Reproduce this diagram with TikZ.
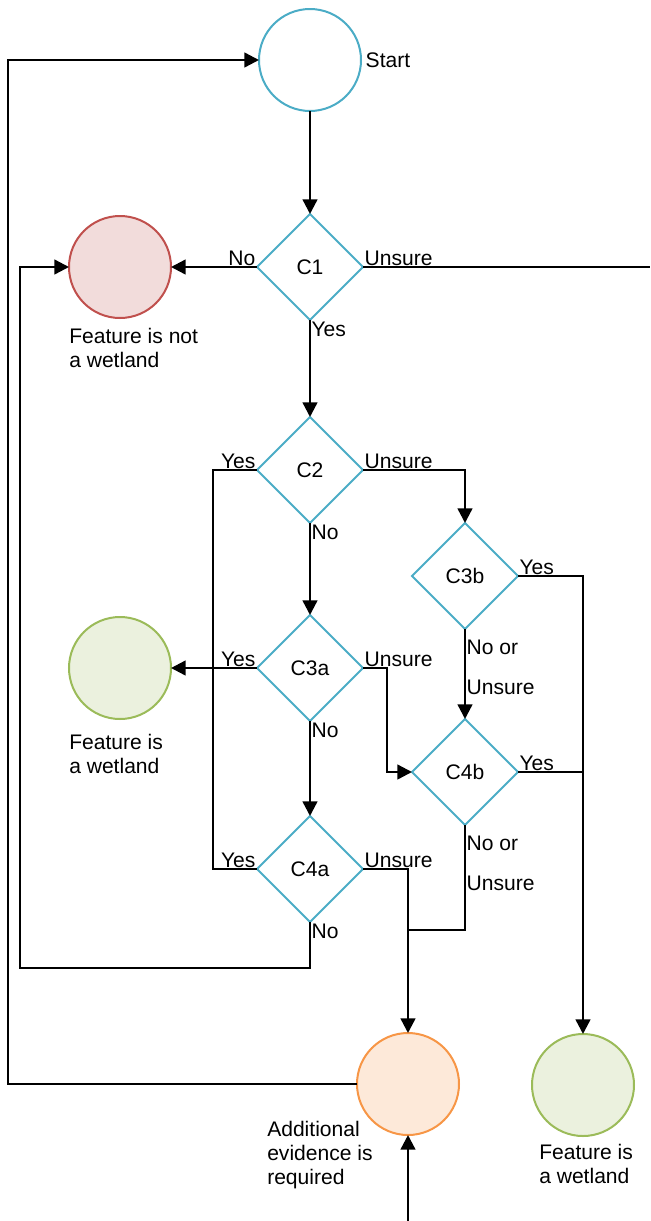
\documentclass[tikz,border=0pt]{standalone}
\usepackage{fontspec}
\setmainfont{Liberation Sans}
\usetikzlibrary{arrows.meta, shapes.geometric}
\definecolor{qblue}{HTML}{4BACC6}
\definecolor{nored}{HTML}{C0504D}
\definecolor{nofill}{HTML}{F2DCDB}
\definecolor{yesgreen}{HTML}{9BBB59}
\definecolor{yesfill}{HTML}{EBF1DE}
\definecolor{evorange}{HTML}{F79646}
\definecolor{evfill}{HTML}{FDE9D9}

\begin{document}
\begin{tikzpicture}[x=0.75pt, y=-0.75pt,
        font=\fontsize{15.8}{18}\selectfont,
        decision/.style={diamond, draw=qblue, line width=1.5pt, minimum width=79.5pt, minimum height=79.5pt, inner sep=0pt, outer sep=0pt},
        endpoint/.style={circle, line width=1.5pt, minimum size=76.5pt, inner sep=0pt, outer sep=0pt},
        conn/.style={line width=1.8pt, -{Triangle[length=11pt, width=11pt]}},
        wire/.style={line width=1.8pt},
        lbl/.style={inner sep=1pt}]
        \useasboundingbox (0,0) rectangle (650,1221);

        % end points
        \node[endpoint, draw=qblue, fill=white] (start) at (310,60) {};
        \node[endpoint, draw=nored, fill=nofill] (notwet) at (120,267) {};
        \node[endpoint, draw=yesgreen, fill=yesfill] (wetA) at (120,668) {};
        \node[endpoint, draw=evorange, fill=evfill] (addev) at (408,1084) {};
        \node[endpoint, draw=yesgreen, fill=yesfill] (wetB) at (583,1085) {};

        \node[anchor=west] (startlbl) at (start.east) {Start};
        \node[anchor=north west, align=left, inner sep=0pt] (notwetlbl) at (69,328) {Feature is not\\a wetland};
        \node[anchor=north west, align=left, inner sep=0pt] (wetAlbl) at (69,734) {Feature is\\a wetland};
        \node[anchor=north west, align=left, inner sep=0pt] (addevlbl) at (267,1121) {Additional\\evidence is\\required};
        \node[anchor=north west, align=left, inner sep=0pt] (wetBlbl) at (539,1144) {Feature is\\a wetland};

        % decisions
        \node[decision] (c1) at (310,267) {C1};
        \node[decision] (c2) at (310,470) {C2};
        \node[decision] (c3a) at (310,668) {C3a};
        \node[decision] (c4a) at (310,869) {C4a};
        \node[decision] (c3b) at (465,576) {C3b};
        \node[decision] (c4b) at (465,772) {C4b};

        \coordinate (rgtOut) at (650,267);
        \coordinate (botIn) at (408,1221);
        \coordinate (lowL) at (20,968);
        \coordinate (outL) at (8,1084);
        \coordinate (join) at (408,930);

        % C1
        \draw[conn] (start) -- (c1);
        \draw[conn] (c1) -- (notwet);
        \draw[wire] (c1.east) -- (rgtOut);
        \draw[conn] (c1) -- (c2);
        \node[lbl, anchor=south east] at (c1.west) {No};
        \node[lbl, anchor=south west] at (c1.east) {Unsure};
        \node[lbl, anchor=north west] at (c1.south) {Yes};

        % C2
        \draw[wire] (c2.west) -- ++(-44,0) |- (c4a.west);
        \draw[conn] (c2.east) -| (c3b.north);
        \draw[conn] (c2) -- (c3a);
        \node[lbl, anchor=south east] at (c2.west) {Yes};
        \node[lbl, anchor=south west] at (c2.east) {Unsure};
        \node[lbl, anchor=north west] at (c2.south) {No};

        % C3b
        \draw[conn] (c3b.east) -| (wetB.north);
        \draw[conn] (c3b) -- (c4b);
        \node[lbl, anchor=south west] at (c3b.east) {Yes};
        \node[lbl, anchor=north west, align=left] at ([yshift=-7pt]c3b.south) {No or\\[12pt]Unsure};

        % C3a
        \draw[conn] (c3a) -- (wetA);
        \draw[conn] (c3a.east) -- ++(24,0) |- (c4b.west);
        \draw[conn] (c3a) -- (c4a);
        \node[lbl, anchor=south east] at (c3a.west) {Yes};
        \node[lbl, anchor=south west] at (c3a.east) {Unsure};
        \node[lbl, anchor=north west] at (c3a.south) {No};

        % C4b
        \draw[wire] (c4b.east) -- (c4b.east -| wetB.north);
        \draw[wire] (c4b.south) |- (join);
        \node[lbl, anchor=south west] at (c4b.east) {Yes};
        \node[lbl, anchor=north west, align=left] at ([yshift=-7pt]c4b.south) {No or\\[12pt]Unsure};

        % C4a
        \draw[conn] (c4a.east) -| (addev.north);
        \draw[conn] (c4a.south) |- (lowL) |- (notwet.west);
        \node[lbl, anchor=south east] at (c4a.west) {Yes};
        \node[lbl, anchor=south west] at (c4a.east) {Unsure};
        \node[lbl, anchor=north west] at (c4a.south) {No};

        % loop back
        \draw[conn] (addev.west) -- (outL) |- (start.west);
        \draw[conn] (botIn) -- (addev.south);
\end{tikzpicture}
\end{document}
